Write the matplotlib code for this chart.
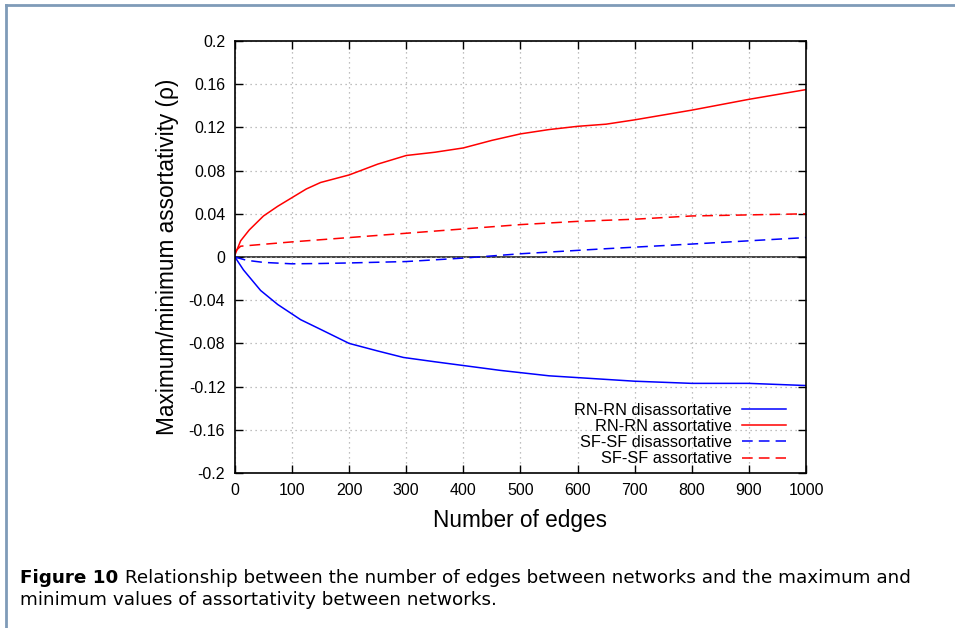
import matplotlib
matplotlib.use("Agg")
import matplotlib.pyplot as plt
from matplotlib.lines import Line2D

# 数据
x_rn_dis = [0, 15, 45, 75, 115, 150, 200, 250, 295, 350, 465, 550, 700, 800, 900, 1000]
y_rn_dis = [0, -0.012, -0.031, -0.044, -0.058, -0.067, -0.080, -0.087, -0.093, -0.097,
            -0.105, -0.110, -0.115, -0.117, -0.117, -0.119]

x_rn_ass = [0, 10, 25, 50, 75, 100, 125, 150, 200, 250, 300, 350, 400, 450, 500, 550,
            600, 650, 700, 800, 900, 1000]
y_rn_ass = [0.002, 0.015, 0.025, 0.038, 0.047, 0.055, 0.063, 0.069, 0.076, 0.086, 0.094,
            0.097, 0.101, 0.108, 0.114, 0.118, 0.121, 0.123, 0.127, 0.136, 0.146, 0.155]

x_sf_dis = [0, 20, 50, 100, 150, 200, 300, 400, 450, 500, 640, 800, 900, 1000]
y_sf_dis = [0, -0.003, -0.005, -0.0063, -0.006, -0.0055, -0.0042, -0.001, 0.001, 0.003,
            0.0074, 0.012, 0.015, 0.018]

x_sf_ass = [0, 10, 100, 200, 300, 400, 500, 600, 700, 800, 900, 1000]
y_sf_ass = [0.005, 0.010, 0.014, 0.018, 0.022, 0.026, 0.030, 0.033, 0.035, 0.038, 0.039, 0.040]

labels = ["RN-RN disassortative", "RN-RN assortative", "SF-SF disassortative", "SF-SF assortative"]
xticks = list(range(0, 1001, 100))
yticks = [-0.2, -0.16, -0.12, -0.08, -0.04, 0, 0.04, 0.08, 0.12, 0.16, 0.2]
yticklabels = ["-0.2", "-0.16", "-0.12", "-0.08", "-0.04", "0", "0.04", "0.08", "0.12", "0.16", "0.2"]

plt.rcParams['font.family'] = ['Liberation Sans', 'DejaVu Sans']

fig = plt.figure(figsize=(9.55, 6.28), dpi=100)
ax = fig.add_axes([0.246, 0.2468, 0.598, 0.6879])

# 边框
fig.add_artist(Line2D([6 / 955, 1], [1 - 5 / 628, 1 - 5 / 628], color="#7f9bb8", lw=2))
fig.add_artist(Line2D([6 / 955, 6 / 955], [0, 1 - 5 / 628], color="#7f9bb8", lw=2))

ax.axhline(0, color="#333333", lw=1.3, zorder=1)
dash = (0, (7, 4))
ax.plot(x_rn_dis, y_rn_dis, color="#0000ff", lw=1.1, label=labels[0])
ax.plot(x_rn_ass, y_rn_ass, color="#ff0000", lw=1.1, label=labels[1])
ax.plot(x_sf_dis, y_sf_dis, color="#0000ff", lw=1.1, linestyle=dash, label=labels[2])
ax.plot(x_sf_ass, y_sf_ass, color="#ff0000", lw=1.1, linestyle=dash, label=labels[3])

ax.set_xlim(0, 1000)
ax.set_ylim(-0.2, 0.2)
ax.set_xticks(xticks)
ax.set_yticks(yticks)
ax.set_yticklabels(yticklabels)
ax.tick_params(direction="in", top=True, right=True, labelsize=11.5, length=6, width=1, pad=7)
ax.grid(True, color="#aaaaaa", linestyle=(0, (1, 3)), lw=0.9)
for s in ax.spines.values():
    s.set_linewidth(1.2)

ax.set_xlabel("Number of edges", fontsize=16.3, labelpad=8)
ax.set_ylabel("Maximum/minimum assortativity (ρ)", fontsize=16.3, labelpad=7)

ax.legend(loc="lower right", markerfirst=False, frameon=False, fontsize=11.8,
          handlelength=2.7, handletextpad=0.6, labelspacing=0.08, borderaxespad=0,
          bbox_to_anchor=(0.9765, 0.0))

# 图注
fig.canvas.draw()
r = fig.canvas.get_renderer()
t1 = fig.text(20 / 955, 1 - 578 / 628, "Figure 10", fontsize=13.2, fontweight="bold",
              family=["DejaVu Sans"], va="center")
bb = t1.get_window_extent(renderer=r)
fig.text(bb.x1 / 955 + 0.007, 1 - 578 / 628,
         "Relationship between the number of edges between networks and the maximum and",
         fontsize=13.2, family=["DejaVu Sans"], va="center")
fig.text(20 / 955, 1 - 600 / 628, "minimum values of assortativity between networks.",
         fontsize=13.2, family=["DejaVu Sans"], va="center")

plt.savefig("out.png", dpi=100)
